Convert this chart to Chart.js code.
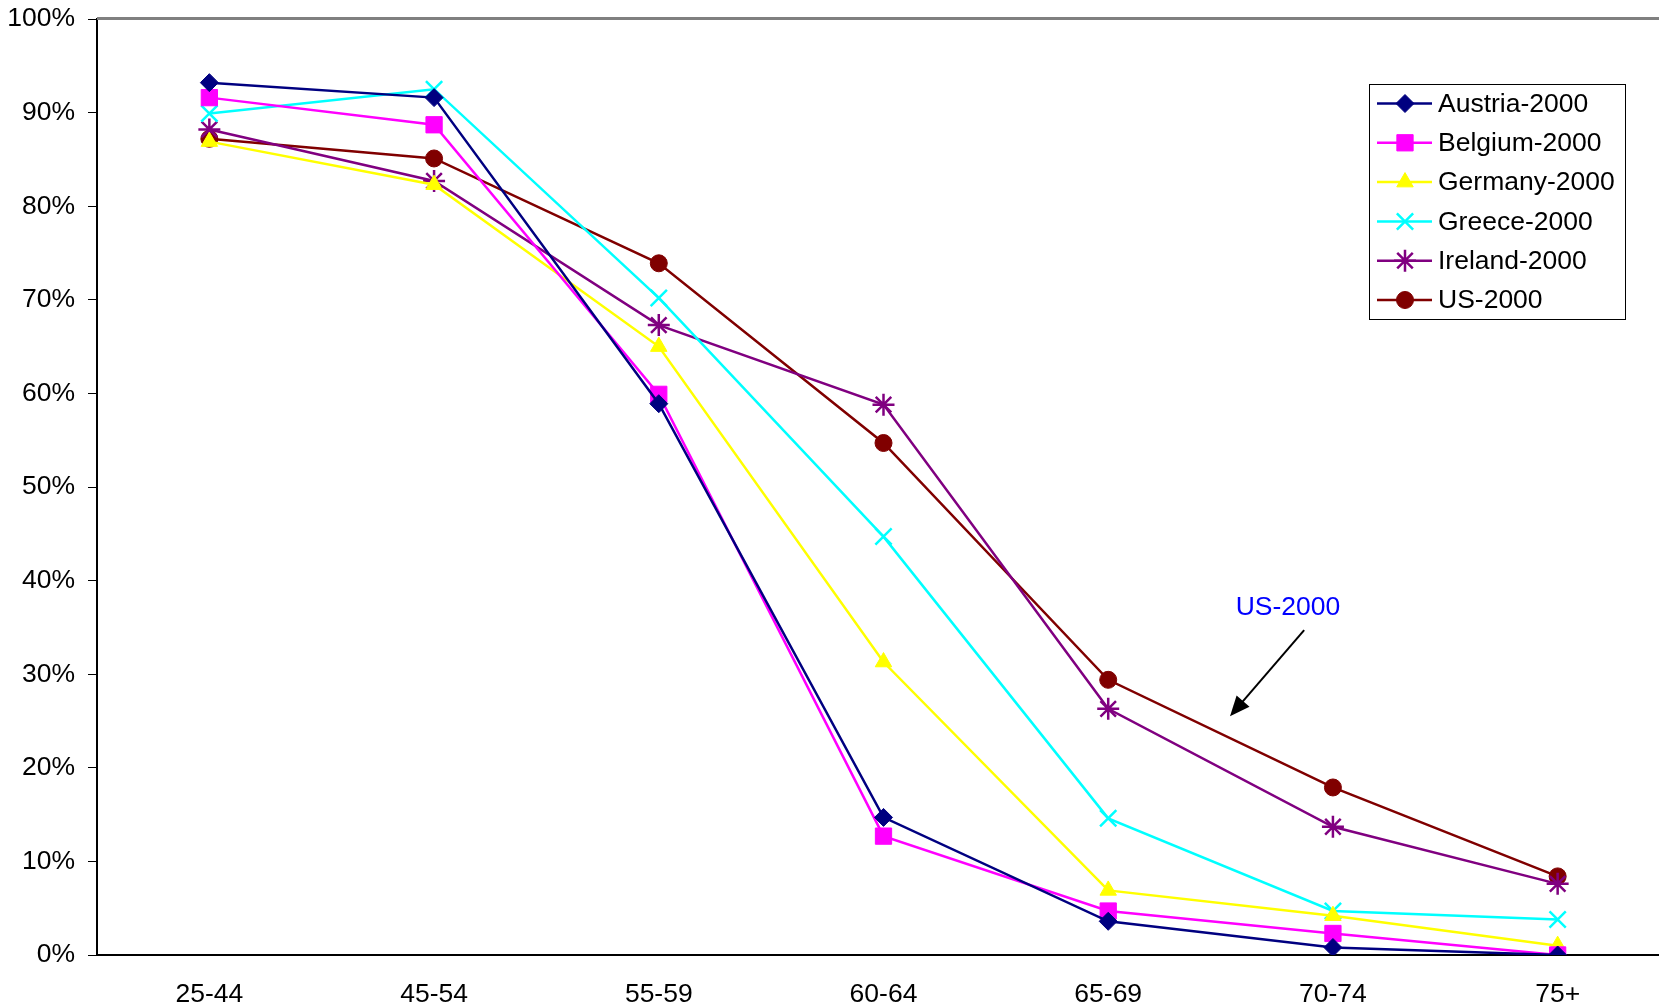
<!DOCTYPE html>
<html>
<head>
<meta charset="utf-8">
<script src="https://cdn.jsdelivr.net/npm/chart.js@4/dist/chart.umd.min.js"></script>
<style>
  html, body { margin: 0; padding: 0; background: #fff; overflow: hidden; }
  canvas { display: block; }
</style>
</head>
<body>
<canvas id="chart" width="1684" height="1008"></canvas>
<script>
const ageGroups = ["25-44", "45-54", "55-59", "60-64", "65-69", "70-74", "75+"];

const austria = [93.2, 91.6, 58.9, 14.7, 3.6, 0.8, 0.0];
const belgium = [91.6, 88.7, 59.9, 12.7, 4.7, 2.3, 0.0];
const germany = [86.9, 82.3, 65.0, 31.3, 6.9, 4.2, 1.0];
const greece  = [89.9, 92.5, 70.2, 44.7, 14.6, 4.7, 3.8];
const ireland = [88.2, 82.7, 67.3, 58.8, 26.3, 13.7, 7.6];
const us      = [87.2, 85.1, 73.9, 54.7, 29.4, 17.9, 8.4];

const yTicks = [0, 10, 20, 30, 40, 50, 60, 70, 80, 90, 100];

// note "US-2000" with arrow, in data units (category index, percent)
const noteText = "US-2000";
const noteAt = [4.80, 37.1];
const arrowFrom = [4.872, 34.7];
const arrowTo = [4.542, 25.5];

const FONT = "'Liberation Sans', Arial, sans-serif";
const FSIZE = 26.5;

const series = [
  { label: "Austria-2000", data: austria, color: "#000080", style: "rectRot", r: 9 },
  { label: "Belgium-2000", data: belgium, color: "#FF00FF", style: "rect", r: 11.5 },
  { label: "Germany-2000", data: germany, color: "#FFFF00", style: "triangle", r: 9.5 },
  { label: "Greece-2000", data: greece, color: "#00FFFF", style: "crossRot", r: 11.5 },
  { label: "Ireland-2000", data: ireland, color: "#800080", style: "star", r: 11 },
  { label: "US-2000", data: us, color: "#800000", style: "circle", r: 8.5 }
];

const isLineStyle = (s) => s === "crossRot" || s === "star" || s === "cross";

const datasets = series.map(s => ({
  label: s.label,
  data: s.data,
  borderColor: s.color,
  backgroundColor: s.color,
  borderWidth: 2.5,
  pointStyle: s.style,
  pointRadius: s.r,
  pointHoverRadius: s.r,
  pointBorderWidth: isLineStyle(s.style) ? 2.5 : 1,
  pointBackgroundColor: s.color,
  pointBorderColor: s.color,
  tension: 0
}));

const extras = {
  id: "extras",
  afterDraw(chart) {
    const c = chart.ctx;
    const area = chart.chartArea;
    const xs = chart.scales.x, ys = chart.scales.y;
    c.save();

    // grey top border of plot area
    c.strokeStyle = "#808080";
    c.lineWidth = 3;
    c.beginPath();
    c.moveTo(area.left, area.top - 0.5);
    c.lineTo(area.right, area.top - 0.5);
    c.stroke();

    // legend box
    const bx = 1369, by = 84, bw = 256, bh = 235;
    c.fillStyle = "#fff";
    c.fillRect(bx, by, bw, bh);
    c.strokeStyle = "#000";
    c.lineWidth = 1;
    c.strokeRect(bx + 0.5, by + 0.5, bw, bh);
    c.font = FSIZE + "px " + FONT;
    c.textBaseline = "middle";
    c.textAlign = "left";
    series.forEach((s, i) => {
      const y = 103.5 + i * 39.3;
      c.strokeStyle = s.color;
      c.fillStyle = s.color;
      c.lineWidth = 2.5;
      c.beginPath();
      c.moveTo(1377, y);
      c.lineTo(1432, y);
      c.stroke();
      c.lineWidth = isLineStyle(s.style) ? 2.5 : 1;
      Chart.helpers.drawPoint(c, { pointStyle: s.style, rotation: 0, radius: s.r, borderWidth: c.lineWidth }, 1405, y);
      c.fillStyle = "#000";
      c.fillText(s.label, 1438, y + 1);
    });

    // note + arrow
    c.fillStyle = "#0000FF";
    c.textAlign = "center";
    c.fillText(noteText, xs.getPixelForValue(noteAt[0]), ys.getPixelForValue(noteAt[1]));
    const x1 = xs.getPixelForValue(arrowFrom[0]), y1 = ys.getPixelForValue(arrowFrom[1]);
    const x2 = xs.getPixelForValue(arrowTo[0]), y2 = ys.getPixelForValue(arrowTo[1]);
    const ang = Math.atan2(y2 - y1, x2 - x1);
    const hl = 20, hw = 8.5;
    c.strokeStyle = "#000";
    c.fillStyle = "#000";
    c.lineWidth = 2;
    c.beginPath();
    c.moveTo(x1, y1);
    c.lineTo(x2 - Math.cos(ang) * hl * 0.8, y2 - Math.sin(ang) * hl * 0.8);
    c.stroke();
    c.beginPath();
    c.moveTo(x2, y2);
    c.lineTo(x2 - Math.cos(ang) * hl + Math.sin(ang) * hw, y2 - Math.sin(ang) * hl - Math.cos(ang) * hw);
    c.lineTo(x2 - Math.cos(ang) * hl - Math.sin(ang) * hw, y2 - Math.sin(ang) * hl + Math.cos(ang) * hw);
    c.closePath();
    c.fill();
    c.restore();
  }
};

new Chart(document.getElementById("chart"), {
  type: "line",
  data: { labels: ageGroups, datasets: datasets },
  options: {
    responsive: false,
    animation: false,
    events: [],
    layout: { padding: { top: 19, right: 0, left: 0, bottom: 0 } },
    plugins: { legend: { display: false }, tooltip: { enabled: false }, title: { display: false } },
    scales: {
      x: {
        offset: true,
        grid: { display: false },
        border: { display: true, color: "#000", width: 2 },
        ticks: { color: "#000", font: { family: FONT, size: FSIZE }, padding: 16, maxRotation: 0 },
        afterFit: (scale) => { scale.height = 53; }
      },
      y: {
        min: 0,
        max: 100,
        afterBuildTicks: (scale) => { scale.ticks = yTicks.map(v => ({ value: v })); },
        grid: { drawOnChartArea: false, drawTicks: true, tickLength: 9, color: "#000", lineWidth: 1 },
        border: { display: true, color: "#000", width: 2 },
        ticks: { color: "#000", font: { family: FONT, size: FSIZE }, padding: 13, callback: (v) => v + "%" },
        afterFit: (scale) => {
          scale.width = 97;
          scale.paddingTop = 0;
          scale.paddingBottom = 0;
        }
      }
    }
  },
  plugins: [extras]
});
</script>
</body>
</html>
